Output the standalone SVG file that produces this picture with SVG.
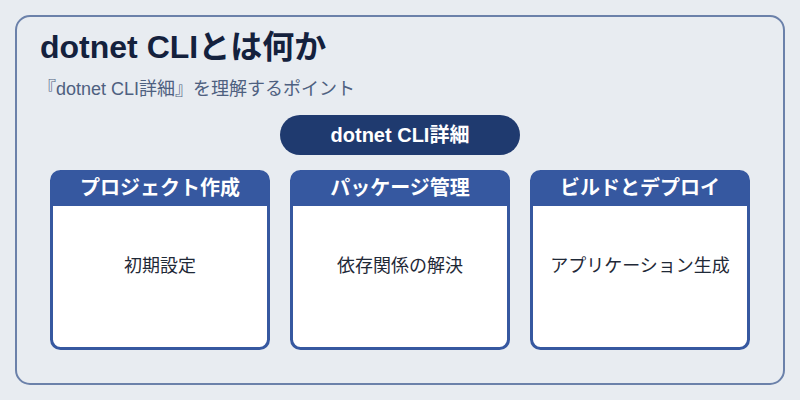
<svg xmlns="http://www.w3.org/2000/svg" width="800" height="400" viewBox="0 0 800 400">
<style>
text{font-family:"Liberation Sans","Noto Sans CJK JP",sans-serif}
.card{fill:#ffffff;stroke:#3658a0;stroke-width:3}
.hdr{fill:#3658a0}
.ht{fill:#ffffff;font-size:20px;font-weight:700;text-anchor:middle}
.bt{fill:#1f2937;font-size:18px;text-anchor:middle}
</style>
<rect width="800" height="400" fill="#e8ecf1"/>
<rect x="16" y="16" width="768" height="368" rx="14" fill="#e8ecf1" stroke="#6b81aa" stroke-width="2"/>
<text x="40" y="58" font-size="32" font-weight="700" fill="#14213d">dotnet CLIとは何か</text>
<text x="38" y="95" font-size="18" fill="#4e6080">『dotnet CLI詳細』を理解するポイント</text>
<g id="root">
<rect x="280" y="115" width="240" height="40" rx="20" fill="#1f3a6f"/>
<text x="400" y="142" font-size="20" font-weight="700" fill="#ffffff" text-anchor="middle">dotnet CLI詳細</text>
</g>
<g id="card1">
<rect class="card" x="51.5" y="171.5" width="217" height="177" rx="9"/>
<path class="hdr" d="M51.5 206 V181 a9.5 9.5 0 0 1 9.5 -9.5 H259 a9.5 9.5 0 0 1 9.5 9.5 V206 Z"/>
<text class="ht" x="160" y="195">プロジェクト作成</text>
<text class="bt" x="160" y="272">初期設定</text>
</g>
<g id="card2">
<rect class="card" x="291.5" y="171.5" width="217" height="177" rx="9"/>
<path class="hdr" d="M291.5 206 V181 a9.5 9.5 0 0 1 9.5 -9.5 H499 a9.5 9.5 0 0 1 9.5 9.5 V206 Z"/>
<text class="ht" x="400" y="195">パッケージ管理</text>
<text class="bt" x="400" y="272">依存関係の解決</text>
</g>
<g id="card3">
<rect class="card" x="531.5" y="171.5" width="217" height="177" rx="9"/>
<path class="hdr" d="M531.5 206 V181 a9.5 9.5 0 0 1 9.5 -9.5 H739 a9.5 9.5 0 0 1 9.5 9.5 V206 Z"/>
<text class="ht" x="640" y="195">ビルドとデプロイ</text>
<text class="bt" x="640" y="272">アプリケーション生成</text>
</g>
<g id="connectors"></g>
</svg>
